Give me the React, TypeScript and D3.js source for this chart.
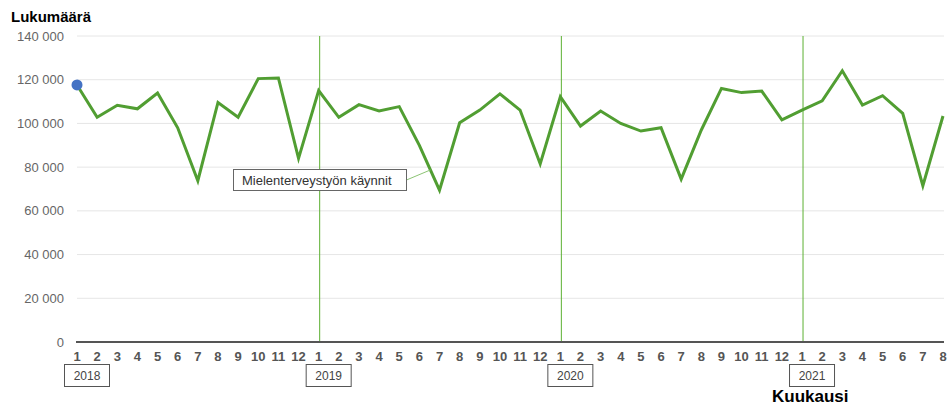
import React from "react";
import * as d3 from "d3";

const years: number[] = [2018, 2019, 2020, 2021];
const monthLabels: string[] = [
  "1","2","3","4","5","6","7","8","9","10","11","12",
  "1","2","3","4","5","6","7","8","9","10","11","12",
  "1","2","3","4","5","6","7","8","9","10","11","12",
  "1","2","3","4","5","6","7","8",
];
const values2018: number[] = [117600, 102800, 108300, 106700, 113900, 98000, 73800, 109600, 102800, 120500, 120800, 84000];
const values2019: number[] = [115000, 102800, 108600, 105700, 107700, 90000, 69500, 100300, 106100, 113500, 106100, 81500];
const values2020: number[] = [112200, 98800, 105700, 100000, 96500, 98000, 74500, 97000, 116000, 114100, 114800, 101600];
const values2021: number[] = [106100, 110300, 124100, 108400, 112700, 104600, 71500, 103400];
const yTicks: number[] = [0, 20000, 40000, 60000, 80000, 100000, 120000, 140000];
const seriesName = "Mielenterveystyön käynnit";
const yTitle = "Lukumäärä";
const xTitle = "Kuukausi";

const W = 949;
const H = 405;
const FONT = "'Liberation Sans', Arial, sans-serif";

export default function App() {
  const values = [...values2018, ...values2019, ...values2020, ...values2021];
  const x = d3.scaleLinear().domain([0, values.length - 1]).range([77, 943]);
  const y = d3.scaleLinear().domain([0, 140000]).range([342, 36]);
  const line = d3.line<number>().x((_, i) => x(i)).y((d) => y(d));
  const fmt = (v: number) => d3.format(",")(v).replace(/,/g, " ");
  const yearStarts = years.map((yr, k) => ({ yr, idx: k * 12 }));

  // annotation anchor: between 2019-6 and 2019-7
  const i6 = 17, i7 = 18;
  const ax = x(i6) + (x(i7) - x(i6)) * 0.55;
  const ay = y(values[i6]) + (y(values[i7]) - y(values[i6])) * 0.55;

  return (
    <svg width={W} height={H} style={{ position: "absolute", left: 0, top: 0, background: "#fff" }} fontFamily={FONT}>
      {yTicks.map((t) => (
        <g key={t}>
          {t > 0 && <line x1={77} x2={944} y1={y(t)} y2={y(t)} stroke="#e6e6e6" strokeWidth={1} />}
          <text x={64} y={y(t)} dy="0.35em" textAnchor="end" fontSize={13} fill="#666">{fmt(t)}</text>
        </g>
      ))}
      {yearStarts.slice(1).map(({ yr, idx }) => (
        <line key={"v" + yr} x1={x(idx) + 1} x2={x(idx) + 1} y1={36} y2={342} stroke="#5cb032" strokeWidth={1} />
      ))}
      <line x1={76} x2={944} y1={342} y2={342} stroke="#555" strokeWidth={2} />
      {monthLabels.map((m, i) => (
        <text key={"m" + i} x={x(i)} y={361} textAnchor="middle" fontSize={13} fontWeight="bold" fill="#555">{m}</text>
      ))}
      {yearStarts.map(({ yr, idx }) => (
        <g key={"y" + yr}>
          <rect x={x(idx) - 12.5} y={364.5} width={45} height={22} fill="#fff" stroke="#555" strokeWidth={1} />
          <text x={x(idx) + 10} y={380} textAnchor="middle" fontSize={12} fill="#444">{yr}</text>
        </g>
      ))}
      <path d={line(values) || ""} fill="none" stroke="#519e32" strokeWidth={3} strokeLinejoin="miter" />
      <circle cx={x(0)} cy={y(values[0])} r={5.5} fill="#4472c4" />
      <line x1={406.5} y1={180} x2={ax} y2={ay} stroke="#8cc474" strokeWidth={1} />
      <rect x={233.5} y={169.5} width={173} height={21} fill="#fff" stroke="#666" strokeWidth={1} />
      <text x={242} y={184.5} fontSize={13} fill="#333">{seriesName}</text>
      <text x={11} y={22} fontSize={15} fontWeight="bold" fill="#000">{yTitle}</text>
      <text x={772} y={402} fontSize={17} fontWeight="bold" fill="#000">{xTitle}</text>
    </svg>
  );
}
